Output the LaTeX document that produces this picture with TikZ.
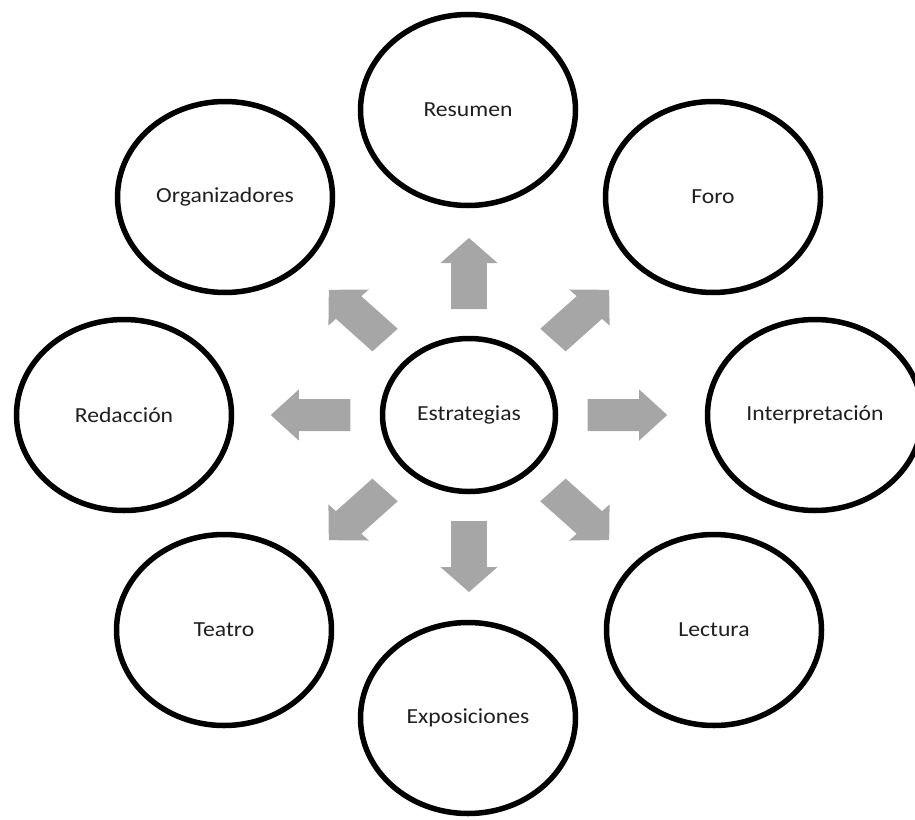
\documentclass[tikz,border=0pt]{standalone}
\usepackage{fontspec}
\setmainfont{Carlito}
\usetikzlibrary{shapes.geometric}
\definecolor{arrowgray}{rgb}{0.65,0.65,0.65}
\definecolor{textgray}{rgb}{0.12,0.12,0.12}
\tikzset{
  bubble/.style={ellipse,draw=black,line width=5.5pt,fill=white,inner sep=0pt,
    minimum width=215pt,minimum height=191pt,text=textgray,
    font=\fontsize{21.5}{25}\selectfont},
  hub/.style={bubble,minimum width=173pt,minimum height=153pt}
}
\begin{document}
\begin{tikzpicture}[x=1pt,y=-1pt]
\useasboundingbox (0,0) rectangle (915,819);
% centre
\node[hub] (est) at (469,415) {\scalebox{1.1}[1]{Estrategias}};
% outer ring
\node[bubble] (res) at (468,110) {\scalebox{1.1}[1]{Resumen}};
\node[bubble] (org) at (225,197) {\scalebox{1.1}[1]{Organizadores}};
\node[bubble] (foro) at (713,197) {\scalebox{1.1}[1]{Foro}};
\node[bubble] (red) at (124,415) {\scalebox{1.1}[1]{Redacción}};
\node[bubble] (int) at (815,415) {\scalebox{1.1}[1]{Interpretación}};
\node[bubble] (tea) at (224,630) {\scalebox{1.1}[1]{Teatro}};
\node[bubble] (lec) at (714,630) {\scalebox{1.1}[1]{Lectura}};
\node[bubble] (exp) at (468,718) {\scalebox{1.1}[1]{Exposiciones}};
% block arrows
\foreach \a in {0,45,...,315}
  \fill[arrowgray,shift={(est.center)},xscale=1.12,rotate=\a]
    (106,-16) -- (152,-16) -- (152,-25.5) -- (177,0) -- (152,25.5) -- (152,16) -- (106,16) -- cycle;
\end{tikzpicture}
\end{document}
